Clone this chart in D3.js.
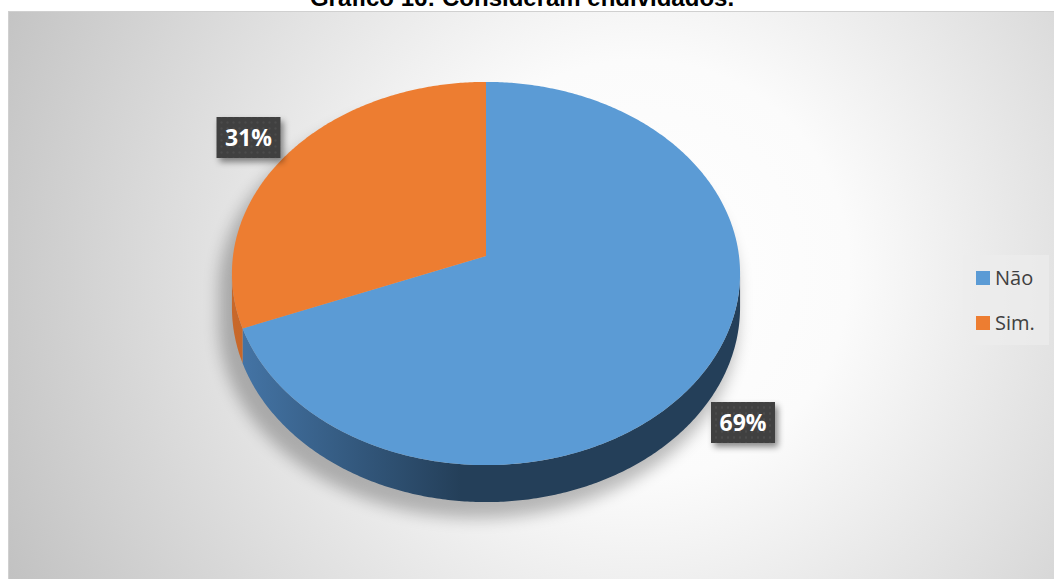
<!DOCTYPE html>
<html>
<head>
<meta charset="utf-8">
<script src="https://cdn.jsdelivr.net/npm/d3@7/dist/d3.min.js"></script>
<style>
  html, body { margin: 0; padding: 0; background: #ffffff; }
  svg { display: block; }
</style>
</head>
<body>
<svg id="chart" width="1054" height="579"></svg>
<script>
// Survey answers: "Do you consider yourself in debt?"
const categories = ["Não", "Sim."];
const values = [69, 31];
const colors = ["#5b9bd5", "#ed7d31"];
const sideColors = [["#4576a8", "#243f59"], ["#c8682a", "#b35a22"]];
const title = "Gráfico 16: Consideram endividados.";

const W = 1054, H = 579;
const svg = d3.select("#chart");
const defs = svg.append("defs");

// Plot background: soft radial grey gradient
const bg = defs.append("radialGradient").attr("id", "bgGrad")
  .attr("gradientUnits", "userSpaceOnUse")
  .attr("cx", 640).attr("cy", 270).attr("r", 700);
bg.append("stop").attr("offset", 0).attr("stop-color", "#ffffff");
bg.append("stop").attr("offset", 0.3).attr("stop-color", "#fbfbfb");
bg.append("stop").attr("offset", 1).attr("stop-color", "#c2c2c2");

svg.append("rect").attr("x", 8.5).attr("y", 11.5).attr("width", W).attr("height", H)
  .attr("fill", "url(#bgGrad)").attr("stroke", "#d0d0d0").attr("stroke-width", 1);

// Title, sitting on the very top edge of the page
svg.append("text").attr("x", 522).attr("y", 6)
  .attr("text-anchor", "middle")
  .attr("font-family", "Liberation Sans, Arial, sans-serif")
  .attr("font-weight", "bold").attr("font-size", 24)
  .attr("fill", "#000").text(title);

// 3D pie projection (tilted disc seen in perspective)
const cx = 486, cy0 = 256;      // projected centre of the disc
const A = 253, B = 190, k = 0.0914, depth = 33.6;

function rim(theta, drop) {
  const u = Math.sin(theta), v = Math.cos(theta);
  const w = 1 + k * v;
  return [cx + A * u / w, cy0 - B * v / w + (drop ? depth / w : 0)];
}

const pie = d3.pie().sort(null).startAngle(0).endAngle(2 * Math.PI)(values);
const scaleColor = d3.scaleOrdinal().domain(categories).range(colors);

function arcPoints(a0, a1, drop) {
  const n = Math.max(2, Math.ceil(Math.abs(a1 - a0) / 0.01));
  return d3.range(n + 1).map(i => rim(a0 + (a1 - a0) * i / n, drop));
}

// Drop shadow behind the disc
const shadowF = defs.append("filter").attr("id", "pieShadow")
  .attr("x", "-20%").attr("y", "-20%").attr("width", "140%").attr("height", "140%");
shadowF.append("feGaussianBlur").attr("stdDeviation", 8);

const leftT = 2 * Math.PI - Math.acos(-k), rightT = Math.acos(-k);
const outline = arcPoints(leftT, 2 * Math.PI + rightT, false)
  .concat(arcPoints(rightT, leftT, true));
svg.append("path")
  .attr("d", d3.line()(outline.map(p => [cx + (p[0] - cx) * 1.02 - 8, p[1] + 16])) + "Z")
  .attr("fill", "#000").attr("opacity", 0.26)
  .attr("filter", "url(#pieShadow)");

// Side walls (only the front half is visible)
const sideGrad = categories.map((c, i) => {
  const g = defs.append("linearGradient").attr("id", "side" + i)
    .attr("gradientUnits", "userSpaceOnUse")
    .attr("x1", cx - A).attr("y1", 0).attr("x2", cx + A).attr("y2", 0);
  g.append("stop").attr("offset", 0).attr("stop-color", sideColors[i][0]);
  g.append("stop").attr("offset", 0.45).attr("stop-color", sideColors[i][1]);
  g.append("stop").attr("offset", 1).attr("stop-color", sideColors[i][1]);
  return "url(#side" + i + ")";
});

pie.forEach((d, i) => {
  const a0 = Math.max(d.startAngle, rightT);
  const a1 = Math.min(d.endAngle, leftT);
  if (a1 <= a0) return;
  const pts = arcPoints(a0, a1, false).concat(arcPoints(a1, a0, true));
  svg.append("path").attr("d", d3.line()(pts) + "Z")
    .attr("fill", sideGrad[i]);
});

// Top faces
pie.forEach((d, i) => {
  const pts = [[cx, cy0]].concat(arcPoints(d.startAngle, d.endAngle, false));
  svg.append("path").attr("d", d3.line()(pts) + "Z")
    .attr("fill", scaleColor(categories[i]));
});

// Data labels: dark dotted boxes with shadow
const pat = defs.append("pattern").attr("id", "dots")
  .attr("patternUnits", "userSpaceOnUse").attr("width", 6).attr("height", 6);
pat.append("rect").attr("width", 6).attr("height", 6).attr("fill", "#3f3f3f");
pat.append("circle").attr("cx", 3).attr("cy", 3).attr("r", 1.1).attr("fill", "#4f4f4f");

const lblShadow = defs.append("filter").attr("id", "lblShadow")
  .attr("x", "-30%").attr("y", "-30%").attr("width", "170%").attr("height", "180%");
lblShadow.append("feDropShadow").attr("dx", 3).attr("dy", 4)
  .attr("stdDeviation", 3).attr("flood-color", "#000").attr("flood-opacity", 0.45);

const labelPos = [[743, 422.5], [248.5, 137.5]];
const fmt = d3.format(".0%");
pie.forEach((d, i) => {
  const g = svg.append("g").attr("transform", `translate(${labelPos[i][0]},${labelPos[i][1]})`);
  g.append("rect").attr("x", -32).attr("y", -20.5).attr("width", 64).attr("height", 41)
    .attr("fill", "url(#dots)").attr("filter", "url(#lblShadow)");
  g.append("text").attr("text-anchor", "middle").attr("dy", "0.36em")
    .attr("font-family", "Open Sans, Lato, sans-serif").attr("font-weight", "bold")
    .attr("font-size", 23).attr("fill", "#ffffff")
    .text(fmt(values[i] / 100));
});

// Legend
const leg = svg.append("g").attr("transform", "translate(963,255)");
leg.append("rect").attr("width", 86).attr("height", 90).attr("fill", "#ececec").attr("opacity", 0.7);
categories.forEach((c, i) => {
  const y = 16 + i * 45;
  leg.append("rect").attr("x", 13).attr("y", y).attr("width", 14).attr("height", 14)
    .attr("fill", scaleColor(c));
  leg.append("text").attr("x", 32).attr("y", y + 7).attr("dy", "0.36em")
    .attr("font-family", "Open Sans, Lato, sans-serif").attr("font-size", 20)
    .attr("fill", "#404040").text(c);
});
</script>
</body>
</html>
